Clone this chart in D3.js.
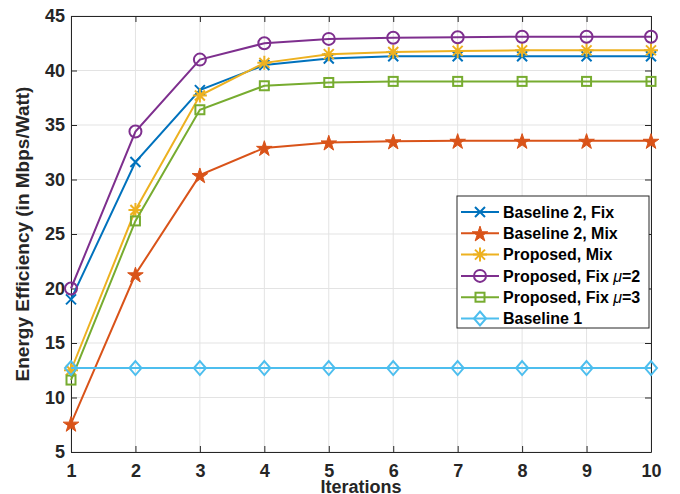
<!DOCTYPE html>
<html>
<head>
<meta charset="utf-8">
<script src="https://cdn.jsdelivr.net/npm/d3@7"></script>
<style>
  body { margin: 0; background: #fff; }
  text { font-family: "Liberation Sans", Arial, sans-serif; font-weight: bold; }
</style>
</head>
<body>
<svg id="chart"></svg>
<script>
// data
var iterations = [1, 2, 3, 4, 5, 6, 7, 8, 9, 10];
var baseline2Fix = [19.0, 31.6, 38.2, 40.5, 41.1, 41.3, 41.3, 41.3, 41.3, 41.3];
var baseline2Mix = [7.6, 21.3, 30.4, 32.9, 33.4, 33.5, 33.55, 33.55, 33.55, 33.55];
var proposedMix = [12.5, 27.2, 37.7, 40.7, 41.5, 41.7, 41.8, 41.85, 41.85, 41.85];
var proposedFix2 = [20.0, 34.4, 41.0, 42.5, 42.9, 43.0, 43.05, 43.1, 43.1, 43.1];
var proposedFix3 = [11.6, 26.2, 36.4, 38.6, 38.9, 39.0, 39.0, 39.0, 39.0, 39.0];
var baseline1 = [12.7, 12.7, 12.7, 12.7, 12.7, 12.7, 12.7, 12.7, 12.7, 12.7];
var yTicks = [5, 10, 15, 20, 25, 30, 35, 40, 45];

var seriesNames = ["Baseline 2, Fix", "Baseline 2, Mix", "Proposed, Mix", "Proposed, Fix \u03bc=2", "Proposed, Fix \u03bc=3", "Baseline 1"];
var seriesValues = [baseline2Fix, baseline2Mix, proposedMix, proposedFix2, proposedFix3, baseline1];
var seriesColors = ["#0072BD", "#D95319", "#EDB120", "#7E2F8E", "#77AC30", "#4DBEEE"];
var seriesMarkers = ["x", "star", "asterisk", "circle", "square", "diamond"];

var width = 680, height = 494;
var margin = {top: 16, right: 29, bottom: 42, left: 71};

var svg = d3.select("#chart").attr("width", width).attr("height", height);

var xScale = d3.scaleLinear().domain([1, 10]).range([margin.left, width - margin.right]);
var yScale = d3.scaleLinear().domain([5, 45]).range([height - margin.bottom, margin.top]);

var x0 = xScale.range()[0], x1 = xScale.range()[1];
var yTop = yScale.range()[1], yBot = yScale.range()[0];

// grid
var grid = svg.append("g");
grid.selectAll(".gx").data(iterations).enter().append("line")
  .attr("x1", d => xScale(d)).attr("x2", d => xScale(d))
  .attr("y1", yTop).attr("y2", yBot)
  .style("stroke", "#e3e3e3").style("stroke-width", 1);
grid.selectAll(".gy").data(yTicks).enter().append("line")
  .attr("x1", x0).attr("x2", x1)
  .attr("y1", d => yScale(d)).attr("y2", d => yScale(d))
  .style("stroke", "#e3e3e3").style("stroke-width", 1);

// axes (MATLAB box style, ticks inward)
var axisColor = "#262626";
var xAxis = svg.append("g").attr("transform", "translate(0," + yBot + ")")
  .call(d3.axisBottom(xScale).tickValues(iterations).tickSizeInner(-6).tickSizeOuter(0).tickPadding(11));
var xAxisTop = svg.append("g").attr("transform", "translate(0," + yTop + ")")
  .call(d3.axisTop(xScale).tickValues(iterations).tickSizeInner(-6).tickSizeOuter(0).tickFormat(""));
var yAxis = svg.append("g").attr("transform", "translate(" + x0 + ",0)")
  .call(d3.axisLeft(yScale).tickValues(yTicks).tickSizeInner(-6).tickSizeOuter(0).tickPadding(6));
var yAxisRight = svg.append("g").attr("transform", "translate(" + x1 + ",0)")
  .call(d3.axisRight(yScale).tickValues(yTicks).tickSizeInner(-6).tickSizeOuter(0).tickFormat(""));

[xAxis, xAxisTop, yAxis, yAxisRight].forEach(function(ax){
  ax.select(".domain").style("stroke", axisColor).style("stroke-width", 1);
  ax.selectAll(".tick line").style("stroke", axisColor);
  ax.selectAll("text").style("fill", axisColor).style("font-size", "18px")
    .style("font-family", "'Liberation Sans', Arial, sans-serif").style("font-weight", "bold");
});
xAxis.selectAll("text").attr("dy", "0.75em");

// marker drawing
function drawMarker(g, type, color) {
  if (type === "x") {
    g.append("path").attr("d", "M-5,-5L5,5M-5,5L5,-5")
      .style("stroke", color).style("stroke-width", 2).style("fill", "none");
  } else if (type === "star") {
    g.append("path").attr("d", d3.symbol().type(d3.symbolStar).size(75)())
      .attr("transform", "translate(0,1)")
      .style("fill", color).style("stroke", color).style("stroke-width", 1);
  } else if (type === "asterisk") {
    g.append("path").attr("d", "M0,-7L0,7M-7,0L7,0M-5,-5L5,5M-5,5L5,-5")
      .style("stroke", color).style("stroke-width", 2).style("fill", "none");
  } else if (type === "circle") {
    g.append("circle").attr("r", 6)
      .style("stroke", color).style("stroke-width", 2).style("fill", "none");
  } else if (type === "square") {
    g.append("rect").attr("x", -4.5).attr("y", -4.5).attr("width", 9).attr("height", 9)
      .style("stroke", color).style("stroke-width", 2).style("fill", "none");
  } else if (type === "diamond") {
    g.append("path").attr("d", "M0,-7L6,0L0,7L-6,0Z")
      .style("stroke", color).style("stroke-width", 2).style("fill", "none");
  }
}

var line = d3.line().x((d, i) => xScale(iterations[i])).y(d => yScale(d));

seriesValues.forEach(function(vals, s){
  var g = svg.append("g");
  g.append("path").datum(vals).attr("d", line)
    .style("fill", "none").style("stroke", seriesColors[s]).style("stroke-width", 2);
  vals.forEach(function(v, i){
    var m = g.append("g").attr("transform", "translate(" + xScale(iterations[i]) + "," + yScale(v) + ")");
    drawMarker(m, seriesMarkers[s], seriesColors[s]);
  });
});

// legend
var legend = svg.append("g").attr("transform", "translate(457,196)");
legend.append("rect").attr("width", 192).attr("height", 132)
  .style("fill", "#fff").style("stroke", axisColor).style("stroke-width", 1);
seriesNames.forEach(function(name, s){
  var ly = 16 + s * 21.3;
  var row = legend.append("g").attr("transform", "translate(0," + ly + ")");
  row.append("line").attr("x1", 4).attr("x2", 42)
    .style("stroke", seriesColors[s]).style("stroke-width", 2);
  drawMarker(row.append("g").attr("transform", "translate(23,0)"), seriesMarkers[s], seriesColors[s]);
  var t = row.append("text").attr("x", 46).attr("dy", "0.36em")
    .style("font-size", "16px").style("fill", "#000");
  if (name.indexOf("\u03bc") >= 0) {
    var parts = name.split("\u03bc");
    t.append("tspan").text(parts[0]);
    t.append("tspan").text("\u03bc").style("font-style", "italic").style("font-weight", "normal");
    t.append("tspan").text(parts[1]);
  } else {
    t.text(name);
  }
});

// axis titles
svg.append("text").attr("x", (x0 + x1) / 2).attr("y", 493)
  .attr("text-anchor", "middle").style("font-size", "18px").style("fill", axisColor)
  .text("Iterations");
svg.append("text").attr("transform", "translate(29," + ((yTop + yBot) / 2) + ") rotate(-90)")
  .attr("text-anchor", "middle").style("font-size", "19px").style("fill", axisColor)
  .text("Energy Efficiency (in Mbps/Watt)");
</script>
</body>
</html>
